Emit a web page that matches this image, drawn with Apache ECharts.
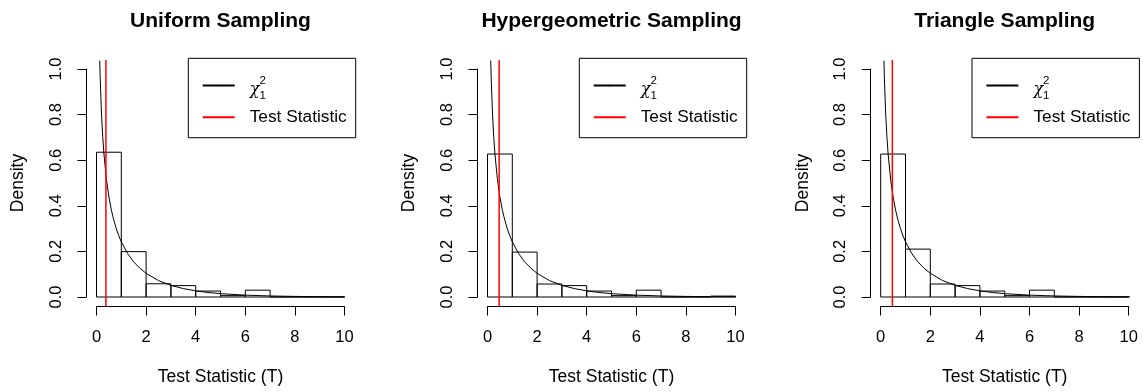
<!DOCTYPE html>
<html>
<head>
    <meta charset="utf-8">
    <script type="text/javascript" src="https://cdn.jsdelivr.net/npm/echarts@6/dist/echarts.min.js"></script>
</head>
<body style="margin: 0; background: #fff">
    <div id="container" style="width: 1143px; height: 392px"></div>
    <script type="text/javascript">
        // panel titles
        var titles = ['Uniform Sampling', 'Hypergeometric Sampling', 'Triangle Sampling'];
        // histogram breaks (width 1) and densities per panel
        var binEdges = [0, 1, 2, 3, 4, 5, 6, 7, 8, 9, 10];
        var uniformDensity = [0.635, 0.199, 0.058, 0.05, 0.026, 0.006, 0.03, 0, 0, 0];
        var hyperDensity = [0.627, 0.197, 0.057, 0.05, 0.026, 0.006, 0.03, 0, 0, 0.004];
        var triangleDensity = [0.627, 0.21, 0.057, 0.05, 0.026, 0.006, 0.03, 0, 0, 0];
        // observed test statistic (red line)
        var testStat = [0.38, 0.47, 0.47];
        // chi-square(1) density curve
        var chiX = [0.13, 0.15, 0.2, 0.25, 0.3, 0.4, 0.5, 0.6, 0.7, 0.8, 0.9, 1, 1.25, 1.5, 1.75, 2, 2.5, 3, 3.5, 4, 4.5, 5, 6, 7, 8, 9, 10, 10.4];
        var chiY = [1.037, 0.956, 0.807, 0.704, 0.627, 0.516, 0.439, 0.381, 0.336, 0.299, 0.268, 0.242, 0.191, 0.154, 0.126, 0.104, 0.072, 0.051, 0.037, 0.027, 0.0198, 0.0146, 0.0081, 0.0045, 0.0026, 0.0015, 0.0009, 0.0007];
        // plot region limits (R extends by 4%)
        var yLo = -0.04, yHi = 1.04;

        var densities = [uniformDensity, hyperDensity, triangleDensity];

        // layout
        var plotLeft = [96.5, 487.5, 880.7];
        var plotWidth = 248;
        var legendLeft = [188.3, 579.3, 972];
        var font = 'Liberation Sans';

        var dom = document.getElementById('container');
        var myChart = echarts.init(dom);

        var grids = [], xAxes = [], yAxes = [], series = [], legends = [], titleOpts = [];

        for (var p = 0; p < 3; p++) {
            grids.push({ left: plotLeft[p], width: plotWidth, top: 69, height: 228 });
            titleOpts.push({
                text: titles[p],
                left: plotLeft[p] + plotWidth / 2,
                textAlign: 'center',
                top: 11,
                padding: 0,
                textStyle: { fontFamily: font, fontSize: 21, fontWeight: 'bold', color: '#000' }
            });
            xAxes.push({
                type: 'value', gridIndex: p, min: 0, max: 10, interval: 2,
                offset: 9.5,
                name: 'Test Statistic (T)', nameLocation: 'middle', nameGap: 62,
                nameTextStyle: { fontFamily: font, fontSize: 17.5, color: '#000' },
                axisLine: { show: true, onZero: false, lineStyle: { color: '#000', width: 1 } },
                axisTick: { show: true, length: 9, lineStyle: { color: '#000', width: 1 } },
                axisLabel: { margin: 22, fontFamily: font, fontSize: 16.5, color: '#000' },
                splitLine: { show: false }
            });
            yAxes.push({
                type: 'value', gridIndex: p, min: 0, max: 1, interval: 0.2,
                offset: 10,
                name: 'Density', nameLocation: 'middle', nameGap: 59, nameRotate: 90,
                nameTextStyle: { fontFamily: font, fontSize: 17.5, color: '#000' },
                axisLine: { show: true, onZero: false, lineStyle: { color: '#000', width: 1 } },
                axisTick: { show: true, length: 9, lineStyle: { color: '#000', width: 1 } },
                axisLabel: {
                    rotate: 90, margin: 22, fontFamily: font, fontSize: 16.5, color: '#000',
                    formatter: function (v) { return v.toFixed(1); }
                },
                splitLine: { show: false }
            });

            var bars = densities[p].map(function (h, i) {
                return [binEdges[i], binEdges[i + 1], h];
            });
            series.push({
                type: 'custom', name: 'hist', xAxisIndex: p, yAxisIndex: p,
                silent: true,
                data: bars,
                encode: { x: [0, 1], y: 2 },
                renderItem: function (params, api) {
                    var a = api.coord([api.value(0), api.value(2)]);
                    var b = api.coord([api.value(1), 0]);
                    return {
                        type: 'rect',
                        shape: { x: a[0], y: a[1], width: b[0] - a[0], height: b[1] - a[1] },
                        style: { fill: 'none', stroke: '#000', lineWidth: 1 }
                    };
                }
            });
            series.push({
                type: 'line', name: 'chi', xAxisIndex: p, yAxisIndex: p,
                data: chiX.map(function (x, i) { return [x, chiY[i]]; }),
                symbol: 'none', clip: false, silent: true,
                color: '#000',
                lineStyle: { color: '#000', width: 1 }
            });
            series.push({
                type: 'line', name: 'Test Statistic', xAxisIndex: p, yAxisIndex: p,
                data: [[testStat[p], yLo], [testStat[p], yHi]],
                symbol: 'none', clip: false, silent: true,
                color: '#ff0000',
                lineStyle: { color: '#ff0000', width: 1.5 }
            });

            legends.push({
                orient: 'vertical',
                left: legendLeft[p], top: 58.3,
                padding: [13.3, 9, 12, 13.4],
                itemGap: 6.4,
                itemWidth: 32, itemHeight: 2,
                selectedMode: false,
                borderColor: '#000', borderWidth: 1, borderRadius: 0,
                data: ['chi', 'Test Statistic'],
                formatter: function (name) {
                    if (name === 'chi') {
                        // superscript has zero advance so the subscript stacks under it
                        return '{p|}{chi|χ}{sup|2}{sub|1}';
                    }
                    return '{p3|}{t|Test Statistic}';
                },
                textStyle: {
                    fontFamily: font, fontSize: 17.3, color: '#000',
                    rich: {
                        p: { width: 10, lineHeight: 28 },
                        p3: { width: 10, lineHeight: 18 },
                        chi: { fontFamily: 'DejaVu Serif', fontStyle: 'italic', fontSize: 16, height: 18.6, lineHeight: 18.6, verticalAlign: 'bottom', color: '#000' },
                        sup: { fontFamily: font, fontSize: 11.5, height: 18, lineHeight: 18, width: 0, verticalAlign: 'top', color: '#000' },
                        sub: { fontFamily: font, fontSize: 11.5, height: 6.6, lineHeight: 6.6, verticalAlign: 'bottom', color: '#000' },
                        t: { fontFamily: font, fontSize: 17.3, lineHeight: 18, color: '#000' }
                    }
                }
            });
        }

        var option = {
            backgroundColor: '#fff',
            animation: false,
            title: titleOpts,
            legend: legends,
            grid: grids,
            xAxis: xAxes,
            yAxis: yAxes,
            series: series
        };
        myChart.setOption(option, true);
    </script>
</body>
</html>
